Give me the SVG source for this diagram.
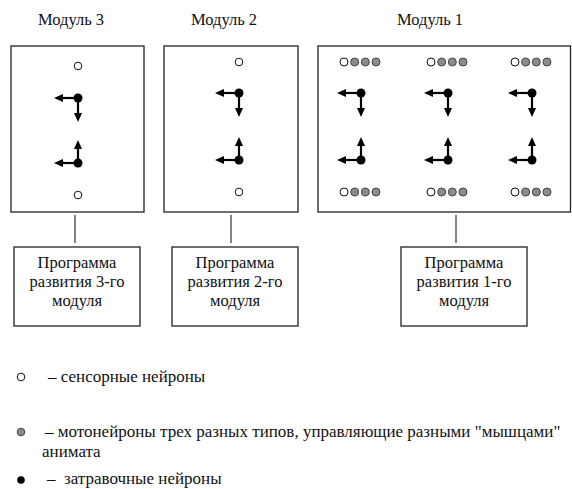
<svg xmlns="http://www.w3.org/2000/svg" width="572" height="489" viewBox="0 0 572 489">
<defs>
<style>
.box{fill:#fff;stroke:#222;stroke-width:1.3}
.t{font-family:"Liberation Serif","Times New Roman",Times,serif;font-size:16.5px;fill:#111}
.lg{font-size:17px}
.c{text-anchor:middle}
.conn{stroke:#333;stroke-width:1.2;fill:none}
.ar{stroke:#000;stroke-width:2.2;fill:none;marker-end:url(#ah)}
.s{fill:#fff;stroke:#111;stroke-width:1}
.m{fill:#8c8c8c;stroke:#444;stroke-width:1}
.d{fill:#000}
</style>
<marker id="ah" markerWidth="9" markerHeight="9" refX="1" refY="4.5" orient="auto" markerUnits="userSpaceOnUse">
<path d="M0,0.5 L9,4.5 L0,8.5 z" fill="#000"/>
</marker>
<g id="unit">
<line class="ar" x1="0" y1="0" x2="-16" y2="0"/>
<line class="ar" x1="0" y1="0" x2="0" y2="16"/>
<circle class="d" cx="0" cy="0" r="4.5"/>
</g>
<g id="unitb">
<line class="ar" x1="0" y1="0" x2="-16" y2="0"/>
<line class="ar" x1="0" y1="0" x2="0" y2="-15"/>
<circle class="d" cx="0" cy="0" r="4.5"/>
</g>
<g id="row">
<circle class="s" cx="-17" cy="0" r="4"/>
<circle class="m" cx="-6.3" cy="0" r="4"/>
<circle class="m" cx="4.3" cy="0" r="4"/>
<circle class="m" cx="15" cy="0" r="4"/>
</g>
</defs>
<rect width="572" height="489" fill="#fff"/>

<g id="module3">
<text class="t" x="38" y="25">Модуль 3</text>
<rect class="box" x="11" y="46" width="133" height="166"/>
<circle class="s" cx="78" cy="66" r="3.8"/>
<use href="#unit" x="78" y="98"/>
<use href="#unitb" x="78" y="163"/>
<circle class="s" cx="78" cy="195" r="3.8"/>
</g>

<g id="module2">
<text class="t" x="191" y="25">Модуль 2</text>
<rect class="box" x="164" y="46" width="134" height="166"/>
<circle class="s" cx="239" cy="62" r="3.8"/>
<use href="#unit" x="239" y="93"/>
<use href="#unitb" x="239" y="160"/>
<circle class="s" cx="239" cy="192" r="3.8"/>
</g>

<g id="module1">
<text class="t" x="397" y="25">Модуль 1</text>
<rect class="box" x="318" y="46" width="252.5" height="166"/>
<use href="#row" x="361" y="62"/>
<use href="#row" x="448" y="62"/>
<use href="#row" x="532" y="62"/>
<use href="#unit" x="361" y="93"/>
<use href="#unit" x="448" y="93"/>
<use href="#unit" x="532" y="93"/>
<use href="#unitb" x="361" y="160"/>
<use href="#unitb" x="448" y="160"/>
<use href="#unitb" x="532" y="160"/>
<use href="#row" x="361" y="192"/>
<use href="#row" x="448" y="192"/>
<use href="#row" x="532" y="192"/>
</g>

<g id="connectors">
<line class="conn" x1="75" y1="215" x2="75" y2="243"/>
<line class="conn" x1="231" y1="215" x2="231" y2="243"/>
<line class="conn" x1="456" y1="215" x2="456" y2="243"/>
</g>

<g id="prog3">
<rect class="box" x="14" y="247" width="126" height="79"/>
<text class="t c" x="77" y="268">Программа</text>
<text class="t c" x="77" y="287">развития 3-го</text>
<text class="t c" x="77" y="306">модуля</text>
</g>
<g id="prog2">
<rect class="box" x="172" y="247" width="126" height="79"/>
<text class="t c" x="235" y="268">Программа</text>
<text class="t c" x="235" y="287">развития 2-го</text>
<text class="t c" x="235" y="306">модуля</text>
</g>
<g id="prog1">
<rect class="box" x="401" y="247" width="126" height="79"/>
<text class="t c" x="464" y="268">Программа</text>
<text class="t c" x="464" y="287">развития 1-го</text>
<text class="t c" x="464" y="306">модуля</text>
</g>

<g id="legend">
<circle class="s" cx="21" cy="377" r="3.8"/>
<text class="t lg" x="48" y="382">– сенсорные нейроны</text>
<circle class="m" cx="21" cy="432" r="3.8"/>
<text class="t lg" x="45" y="437">– мотонейроны трех разных типов, управляющие разными "мышцами"</text>
<text class="t lg" x="42" y="457">анимата</text>
<circle class="d" cx="21" cy="480" r="3.8"/>
<text class="t lg" x="47" y="484" xml:space="preserve">–  затравочные нейроны</text>
</g>
</svg>
